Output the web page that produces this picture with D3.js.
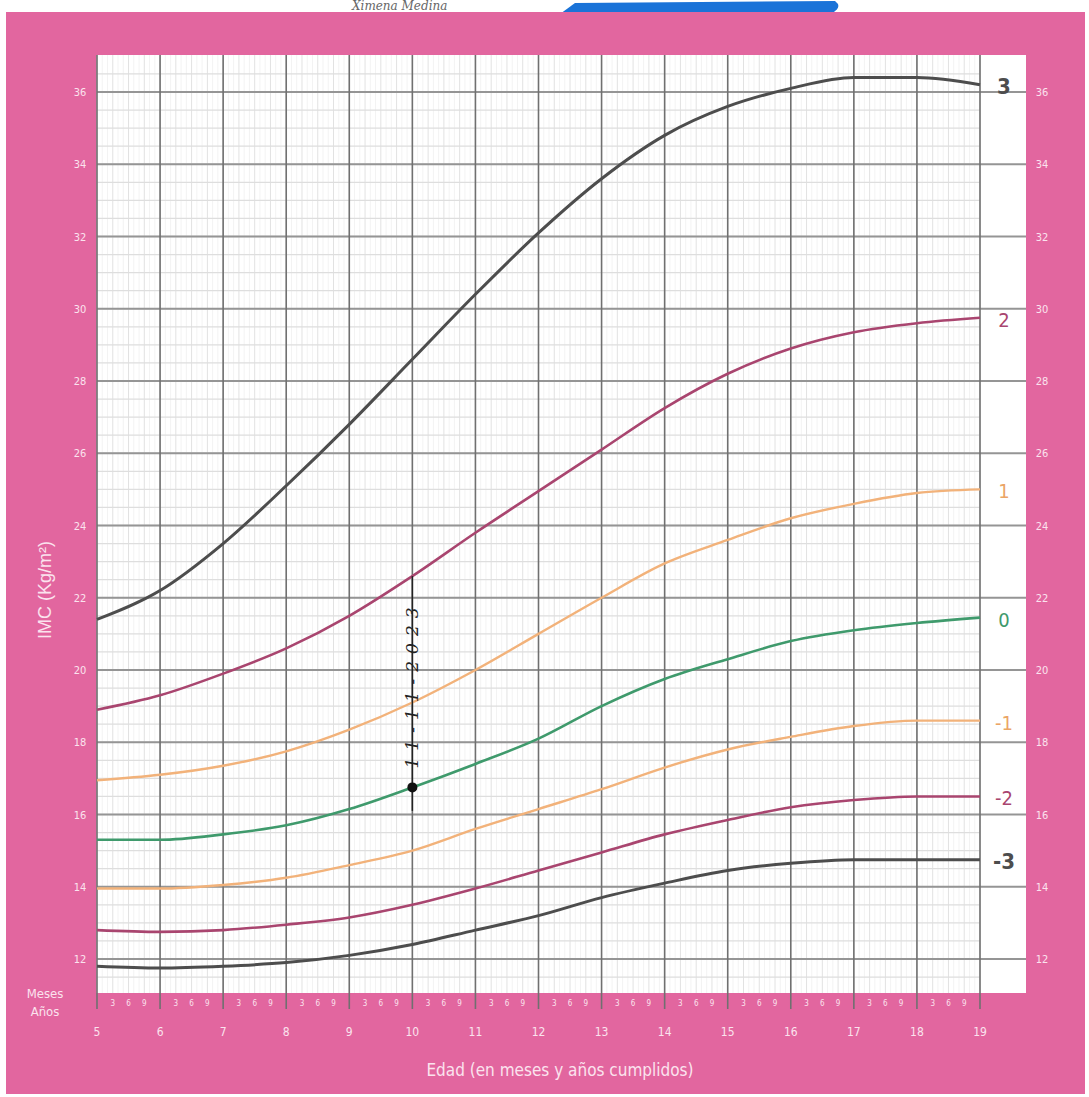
<!DOCTYPE html>
<html>
<head>
<meta charset="utf-8">
<script src="https://cdn.jsdelivr.net/npm/d3@7"></script>
<style>
	body { margin: 0; background: #fff; }
	svg { display: block; }
	.cond { font-family: "Liberation Sans Narrow", "DejaVu Sans Condensed", "Liberation Sans", sans-serif; }
</style>
</head>
<body>
<svg width="1089" height="1097"></svg>
<script>
// data (BMI-for-age, girls 5-19)
var ages = [5, 6, 7, 8, 9, 10, 11, 12, 13, 14, 15, 16, 17, 18, 19];
var sd3  = [21.4, 22.2, 23.5, 25.1, 26.8, 28.6, 30.4, 32.1, 33.6, 34.8, 35.6, 36.1, 36.4, 36.4, 36.2];
var sd2  = [18.9, 19.3, 19.9, 20.6, 21.5, 22.6, 23.8, 24.95, 26.1, 27.25, 28.2, 28.9, 29.35, 29.6, 29.75];
var sd1  = [16.95, 17.1, 17.35, 17.75, 18.35, 19.1, 20.0, 21.0, 22.0, 22.95, 23.6, 24.2, 24.6, 24.9, 25.0];
var sd0  = [15.3, 15.3, 15.45, 15.7, 16.15, 16.75, 17.4, 18.1, 19.0, 19.75, 20.3, 20.8, 21.1, 21.3, 21.45];
var sdm1 = [13.95, 13.95, 14.05, 14.25, 14.6, 15.0, 15.6, 16.15, 16.7, 17.3, 17.8, 18.15, 18.45, 18.6, 18.6];
var sdm2 = [12.8, 12.75, 12.8, 12.95, 13.15, 13.5, 13.95, 14.45, 14.95, 15.45, 15.85, 16.2, 16.4, 16.5, 16.5];
var sdm3 = [11.8, 11.75, 11.8, 11.9, 12.1, 12.4, 12.8, 13.2, 13.7, 14.1, 14.45, 14.65, 14.75, 14.75, 14.75];
var yTicks = [12, 14, 16, 18, 20, 22, 24, 26, 28, 30, 32, 34, 36];
var monthLabels = ["3", "6", "9"];
var curveNames = ["3", "2", "1", "0", "-1", "-2", "-3"];
// the handwritten measurement on the chart
var measure = {age: 10, bmi: 16.75, top: 22.6, bottom: 16.1, note: "11-11-2023"};

var svg = d3.select("svg"),
	pink = "#e2669f",
	plotL = 97, plotR = 1026, plotT = 55, plotB = 993;

var x = d3.scaleLinear().domain([5, 19]).range([97, 980]);
var y = d3.scaleLinear().domain([12, 36]).range([959, 92]);

// handwriting + blue marker at top
svg.append("text")
	.attr("x", 352).attr("y", 10)
	.attr("font-family", "DejaVu Serif").attr("font-size", 12)
	.attr("fill", "#666").attr("font-style", "italic")
	.text("Ximena   Medina");
svg.append("path")
	.attr("d", "M575,3 L835,1 Q843,7 832,13 L560,14 Z")
	.attr("fill", "#1a73d8");

// pink card
svg.append("rect")
	.attr("x", 6).attr("y", 12).attr("width", 1079).attr("height", 1082)
	.attr("fill", pink);
svg.append("rect")
	.attr("x", plotL).attr("y", plotT).attr("width", plotR - plotL).attr("height", plotB - plotT)
	.attr("fill", "#fff");

var grid = svg.append("g");

// month lines
var months = d3.range(5, 19.001, 1 / 12);
grid.selectAll(".month")
	.data(months)
	.enter().append("line")
	.attr("x1", function(d) { return x(d); }).attr("x2", function(d) { return x(d); })
	.attr("y1", plotT).attr("y2", plotB)
	.attr("stroke", function(d, i) { return i % 3 == 0 ? "#e2e2e2" : "#f3f3f3"; })
	.attr("stroke-width", 1);

// horizontal fine lines
var fine = d3.range(11.5, 36.9, 0.5);
grid.selectAll(".hfine")
	.data(fine)
	.enter().append("line")
	.attr("x1", plotL).attr("x2", x(19))
	.attr("y1", function(d) { return y(d); }).attr("y2", function(d) { return y(d); })
	.attr("stroke", "#dedede")
	.attr("stroke-width", 1.3);

// major horizontal lines
grid.selectAll(".hmajor")
	.data(yTicks)
	.enter().append("line")
	.attr("x1", plotL).attr("x2", plotR)
	.attr("y1", function(d) { return y(d); }).attr("y2", function(d) { return y(d); })
	.attr("stroke", "#959595")
	.attr("stroke-width", 1.8);

// year lines
grid.selectAll(".year")
	.data(ages)
	.enter().append("line")
	.attr("x1", function(d) { return x(d); }).attr("x2", function(d) { return x(d); })
	.attr("y1", plotT).attr("y2", plotB + 16)
	.attr("stroke", "#707070")
	.attr("stroke-width", 1.6);

// axis labels left / right
[80, 1042].forEach(function(px) {
	svg.append("g").selectAll("text")
		.data(yTicks)
		.enter().append("text")
		.attr("class", "cond")
		.attr("x", px).attr("y", function(d) { return y(d) + 4; })
		.attr("text-anchor", "middle")
		.attr("font-size", 11)
		.attr("fill", "#fbe3ee")
		.text(function(d) { return d; });
});

svg.append("text")
	.attr("transform", "translate(51,590) rotate(-90)")
	.attr("text-anchor", "middle")
	.attr("font-family", "Liberation Sans, Arial, sans-serif")
	.attr("font-size", 18)
	.attr("fill", "#fbe3ee")
	.text("IMC (Kg/m²)");

// bottom axis
var monthTicks = [];
ages.slice(0, -1).forEach(function(a) {
	monthLabels.forEach(function(m) { monthTicks.push({age: a + (+m) / 12, label: m}); });
});
svg.append("g").selectAll("text")
	.data(monthTicks)
	.enter().append("text")
	.attr("class", "cond")
	.attr("x", function(d) { return x(d.age); }).attr("y", 1006)
	.attr("text-anchor", "middle")
	.attr("font-size", 8)
	.attr("fill", "#fbe3ee")
	.text(function(d) { return d.label; });

svg.append("g").selectAll("text")
	.data(ages)
	.enter().append("text")
	.attr("class", "cond")
	.attr("x", function(d) { return x(d); }).attr("y", 1036)
	.attr("text-anchor", "middle")
	.attr("font-size", 12)
	.attr("fill", "#fbe3ee")
	.text(function(d) { return d; });

svg.append("text").attr("class", "cond")
	.attr("x", 45).attr("y", 998).attr("text-anchor", "middle")
	.attr("font-size", 13).attr("fill", "#fbe3ee").text("Meses");
svg.append("text").attr("class", "cond")
	.attr("x", 45).attr("y", 1016).attr("text-anchor", "middle")
	.attr("font-size", 13).attr("fill", "#fbe3ee").text("Años");

svg.append("text").attr("class", "cond")
	.attr("x", 560).attr("y", 1076).attr("text-anchor", "middle")
	.attr("font-size", 17).attr("fill", "#fbe3ee")
	.text("Edad (en meses y años cumplidos)");

// z-score curves
var series = [sd3, sd2, sd1, sd0, sdm1, sdm2, sdm3];
var colors = ["#4d4d4d", "#a9456f", "#f2b27a", "#3f9a6c", "#f2b27a", "#a9456f", "#4d4d4d"];
var widths = [3, 2.6, 2.4, 2.6, 2.4, 2.6, 3];

var line = d3.line()
	.x(function(d, i) { return x(ages[i]); })
	.y(function(d) { return y(d); })
	.curve(d3.curveMonotoneX);

svg.append("g").selectAll("path")
	.data(series)
	.enter().append("path")
	.attr("d", line)
	.attr("fill", "none")
	.attr("stroke", function(d, i) { return colors[i]; })
	.attr("stroke-width", function(d, i) { return widths[i]; });

svg.append("g").selectAll("text")
	.data(series)
	.enter().append("text")
	.attr("class", "cond")
	.attr("x", 1004)
	.attr("y", function(d) { return y(d[d.length - 1]) + 9; })
	.attr("text-anchor", "middle")
	.attr("font-size", function(d, i) { return i == 0 || i == 6 ? 22 : 20; })
	.attr("font-weight", function(d, i) { return i == 0 || i == 6 ? "bold" : "normal"; })
	.attr("fill", function(d, i) { return colors[i] == "#f2b27a" ? "#eba566" : colors[i]; })
	.text(function(d, i) { return curveNames[i]; });

// handwritten measurement
svg.append("line")
	.attr("x1", x(measure.age)).attr("x2", x(measure.age))
	.attr("y1", y(measure.top)).attr("y2", y(measure.bottom))
	.attr("stroke", "#222").attr("stroke-width", 1.5);
svg.append("text")
	.attr("transform", "translate(" + (x(measure.age) + 6) + "," + y(19.6) + ") rotate(-90)")
	.attr("text-anchor", "middle")
	.attr("font-family", "DejaVu Serif").attr("font-style", "italic")
	.attr("font-size", 17).attr("letter-spacing", 7)
	.attr("fill", "#222")
	.text(measure.note);
svg.append("circle")
	.attr("cx", x(measure.age)).attr("cy", y(measure.bmi))
	.attr("r", 5).attr("fill", "#111");
</script>
</body>
</html>
